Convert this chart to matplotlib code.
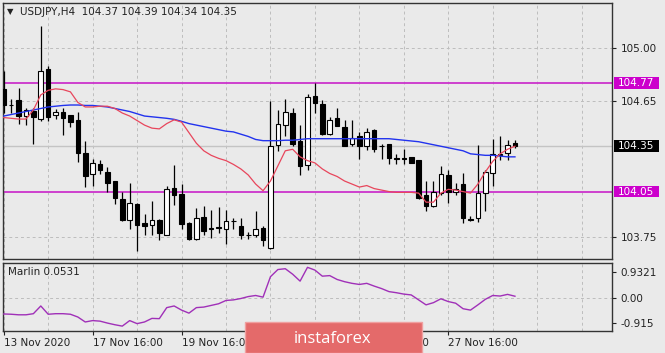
import matplotlib
matplotlib.use("Agg")
import matplotlib.pyplot as plt
from matplotlib.patches import Rectangle
from matplotlib.transforms import blended_transform_factory
import numpy as np

# USDJPY H4 candles, 13 Nov 2020 16:00 ... 27 Nov 2020
opens = [104.73, 104.625, 104.655, 104.55, 104.585, 104.53, 104.86, 104.56, 104.575, 104.555,
         104.525, 104.305, 104.165, 104.235, 104.18, 104.12, 104.00, 103.865, 103.97, 103.845,
         103.83, 103.865, 103.765, 104.075, 104.035, 103.845, 103.735, 103.885, 103.80, 103.815,
         103.80, 103.855, 103.82, 103.766, 103.766, 103.81, 103.68, 104.357, 104.49, 104.571,
         104.383, 104.229, 104.683, 104.627, 104.43, 104.54, 104.476, 104.365, 104.418, 104.352,
         104.458, 104.355, 104.365, 104.27, 104.27, 104.276, 104.262, 104.03, 103.954, 104.04,
         104.163, 104.05, 104.103, 103.866, 103.877, 104.04, 104.17, 104.29, 104.306, 104.37]
highs = [104.845, 104.665, 104.735, 104.605, 104.60, 105.145, 104.88, 104.595, 104.60, 104.56,
         104.575, 104.385, 104.265, 104.26, 104.21, 104.12, 104.045, 104.11, 103.975, 103.90,
         103.99, 103.87, 104.09, 104.225, 104.10, 103.85, 103.94, 103.955, 103.93, 103.95,
         103.93, 103.875, 103.875, 103.78, 103.92, 103.82, 104.648, 104.593, 104.66, 104.604,
         104.494, 104.698, 104.771, 104.656, 104.546, 104.60, 104.524, 104.524, 104.447, 104.469,
         104.462, 104.365, 104.365, 104.30, 104.33, 104.28, 104.262, 104.119, 104.119, 104.222,
         104.196, 104.11, 104.17, 103.89, 104.361, 104.196, 104.40, 104.42, 104.39, 104.39]
lows = [104.57, 104.57, 104.50, 104.49, 104.365, 104.52, 104.52, 104.53, 104.425, 104.48,
        104.245, 104.08, 104.09, 104.165, 104.045, 103.97, 103.855, 103.80, 103.655, 103.765,
        103.765, 103.73, 103.76, 103.96, 103.80, 103.73, 103.73, 103.765, 103.745, 103.775,
        103.70, 103.80, 103.735, 103.735, 103.75, 103.69, 103.667, 104.317, 104.416, 104.35,
        104.163, 104.196, 104.568, 104.425, 104.425, 104.485, 104.35, 104.35, 104.264, 104.326,
        104.315, 104.264, 104.23, 104.23, 104.23, 104.24, 104.0, 103.921, 103.95, 104.03,
        103.976, 104.03, 103.844, 103.855, 103.85, 103.921, 104.086, 104.26, 104.262, 104.34]
closes = [104.62, 104.62, 104.55, 104.59, 104.545, 104.845, 104.545, 104.575, 104.54, 104.51,
          104.305, 104.15, 104.24, 104.19, 104.11, 104.01, 103.86, 103.975, 103.83, 103.82,
          103.865, 103.775, 104.07, 104.03, 103.835, 103.735, 103.875, 103.79, 103.81, 103.812,
          103.855, 103.853, 103.76, 103.762, 103.80, 103.73, 104.35, 104.497, 104.577, 104.367,
          104.222, 104.676, 104.634, 104.432, 104.524, 104.487, 104.352, 104.403, 104.352, 104.447,
          104.33, 104.35, 104.27, 104.268, 104.268, 104.24, 104.009, 103.954, 104.046, 104.168,
          104.046, 104.07, 103.877, 103.864, 104.04, 104.18, 104.30, 104.30, 104.357, 104.35]

ma_slow = [104.55, 104.56, 104.57, 104.58, 104.59, 104.60, 104.61, 104.615, 104.62, 104.623,
           104.623, 104.62, 104.62, 104.615, 104.61, 104.60, 104.59, 104.58, 104.565, 104.55,
           104.545, 104.54, 104.535, 104.528, 104.515, 104.50, 104.49, 104.48, 104.47, 104.46,
           104.45, 104.445, 104.43, 104.415, 104.395, 104.387, 104.387, 104.387, 104.39, 104.39,
           104.395, 104.40, 104.40, 104.40, 104.40, 104.40, 104.40, 104.40, 104.40, 104.40,
           104.40, 104.40, 104.40, 104.395, 104.39, 104.385, 104.38, 104.37, 104.36, 104.35,
           104.34, 104.33, 104.32, 104.30, 104.295, 104.29, 104.29, 104.285, 104.28, 104.28]
ma_fast = [104.54, 104.535, 104.53, 104.53, 104.59, 104.69, 104.72, 104.73, 104.725, 104.71,
           104.64, 104.61, 104.61, 104.615, 104.615, 104.60, 104.57, 104.55, 104.52, 104.49,
           104.47, 104.465, 104.50, 104.525, 104.51, 104.44, 104.37, 104.32, 104.29, 104.27,
           104.255, 104.23, 104.20, 104.16, 104.10, 104.056, 104.12, 104.22, 104.32, 104.33,
           104.28, 104.255, 104.24, 104.20, 104.17, 104.15, 104.12, 104.10, 104.08, 104.09,
           104.07, 104.06, 104.05, 104.045, 104.045, 104.045, 104.04, 103.98, 103.98, 104.04,
           104.065, 104.06, 104.05, 104.04, 104.10, 104.18, 104.25, 104.30, 104.33, 104.35]
marlin = [-0.59, -0.60, -0.62, -0.62, -0.58, -0.30, -0.60, -0.58, -0.58, -0.60,
          -0.70, -0.88, -0.83, -0.85, -0.92, -0.98, -1.03, -0.83, -0.94, -0.88,
          -0.75, -0.76, -0.36, -0.30, -0.45, -0.56, -0.36, -0.34, -0.28, -0.22,
          -0.10, -0.08, -0.03, 0.04, 0.08, 0.02, 0.76, 1.02, 1.05, 0.85,
          0.60, 1.10, 1.00, 0.78, 0.80, 0.66, 0.58, 0.52, 0.48, 0.52,
          0.42, 0.33, 0.22, 0.18, 0.13, 0.10, -0.08, -0.26, -0.18, -0.04,
          -0.14, -0.20, -0.40, -0.45, -0.26, -0.06, 0.08, 0.06, 0.12, 0.053]

date_labels = ["13 Nov 2020", "17 Nov 16:00", "19 Nov 16:00", "23 Nov 16:00",
               "25 Nov 16:00", "27 Nov 16:00"]
levels = [104.77, 104.05]
last_price = 104.35

BG = "#eaeaea"
GRID = "#bdbdbd"
MAG = "#cc33cc"
FS = 7.5

fig = plt.figure(figsize=(6.65, 3.53), dpi=100, facecolor=BG)
ax = fig.add_axes([3 / 665, 1 - 259 / 353, 609 / 665, 256 / 353], facecolor=BG)
axm = fig.add_axes([3 / 665, 1 - 331 / 353, 609 / 665, 68.5 / 353], facecolor=BG)

x = np.arange(len(opens))
o = np.array(opens); c = np.array(closes)
up = c >= o

for a in (ax, axm):
    a.set_xlim(-0.1, 82.1)
    for gx in range(0, 84, 6):
        a.axvline(gx, color=GRID, lw=0.7, ls=(0, (3, 3)), zorder=1)
    for s in a.spines.values():
        s.set_color("#333333")
        s.set_linewidth(1.0)

# main panel
ax.set_ylim(103.604, 105.298)
for gy in [103.75, 104.65, 105.00]:
    ax.axhline(gy, color=GRID, lw=0.7, ls=(0, (3, 3)), zorder=1)
ax.axhline(last_price, color="#c4c4c4", lw=1.0, zorder=1)
for lv in levels:
    ax.axhline(lv, color=MAG, lw=1.3, zorder=2)

ax.vlines(x, lows, highs, color="black", lw=0.9, zorder=3)
body_h = np.maximum(np.abs(c - o), 0.002)
ax.bar(x, body_h, bottom=np.minimum(o, c), width=0.62,
       color=np.where(up, "white", "black"), edgecolor="black", lw=0.8, zorder=4)
ax.plot(x, ma_slow, color="#2233ee", lw=1.0, zorder=5)
ax.plot(x, ma_fast, color="#e8465c", lw=0.9, zorder=5)

ax.yaxis.tick_right()
ax.set_yticks([103.75, 104.65, 105.00])
ax.set_yticklabels(["103.75", "104.65", "105.00"])
ax.tick_params(axis="y", direction="out", length=3, pad=3, labelsize=FS, colors="#222222")
ax.set_xticks([])

tr = blended_transform_factory(ax.transAxes, ax.transData)
def price_tag(y, txt, fc):
    ax.add_patch(Rectangle((1.0035, y - 0.039), 0.074, 0.078, transform=tr,
                           facecolor=fc, edgecolor="none", clip_on=False, zorder=6))
    ax.text(1.0095, y, txt, transform=tr, color="white", fontsize=FS,
            va="center", ha="left", zorder=7, clip_on=False)

price_tag(104.77, "104.77", "#cc00cc")
price_tag(104.05, "104.05", "#cc00cc")
price_tag(last_price, "104.35", "black")

ax.text(0.006, 0.965, "\u25bc", transform=ax.transAxes, fontsize=6, va="center", color="#222222")
ax.text(0.028, 0.965, "USDJPY,H4  104.37 104.39 104.34 104.35", transform=ax.transAxes,
        fontsize=FS, va="center", color="#222222")

# indicator panel
axm.set_ylim(-1.207, 1.275)
axm.axhline(0, color=GRID, lw=0.7, ls=(0, (3, 3)), zorder=1)
axm.plot(x, marlin, color="#a030b8", lw=1.0, zorder=3)
axm.yaxis.tick_right()
axm.set_yticks([0.9321, 0.0, -0.915])
axm.set_yticklabels(["0.9321", "0.00", "-0.915"])
axm.tick_params(axis="y", direction="out", length=3, pad=3, labelsize=FS, colors="#222222")
axm.set_xticks(np.arange(0, 72, 12))
axm.set_xticklabels(date_labels)
axm.tick_params(axis="x", direction="out", length=3, pad=2, labelsize=FS, colors="#222222")
for lab in axm.get_xticklabels():
    lab.set_ha("left")
axm.text(0.008, 0.86, "Marlin 0.0531", transform=axm.transAxes, fontsize=FS,
         va="center", color="#222222")

# watermark
fig.patches.append(Rectangle((245 / 665, 0), 177 / 665, 31 / 353, transform=fig.transFigure,
                             facecolor="#e46a6a", edgecolor="#f0a0a0", lw=1, zorder=10))
fig.text(333 / 665, 14 / 353, "instaforex", color="white", fontsize=12, family="Open Sans",
         ha="center", va="center", zorder=11)

fig.savefig("out.png", dpi=100, facecolor=BG)
